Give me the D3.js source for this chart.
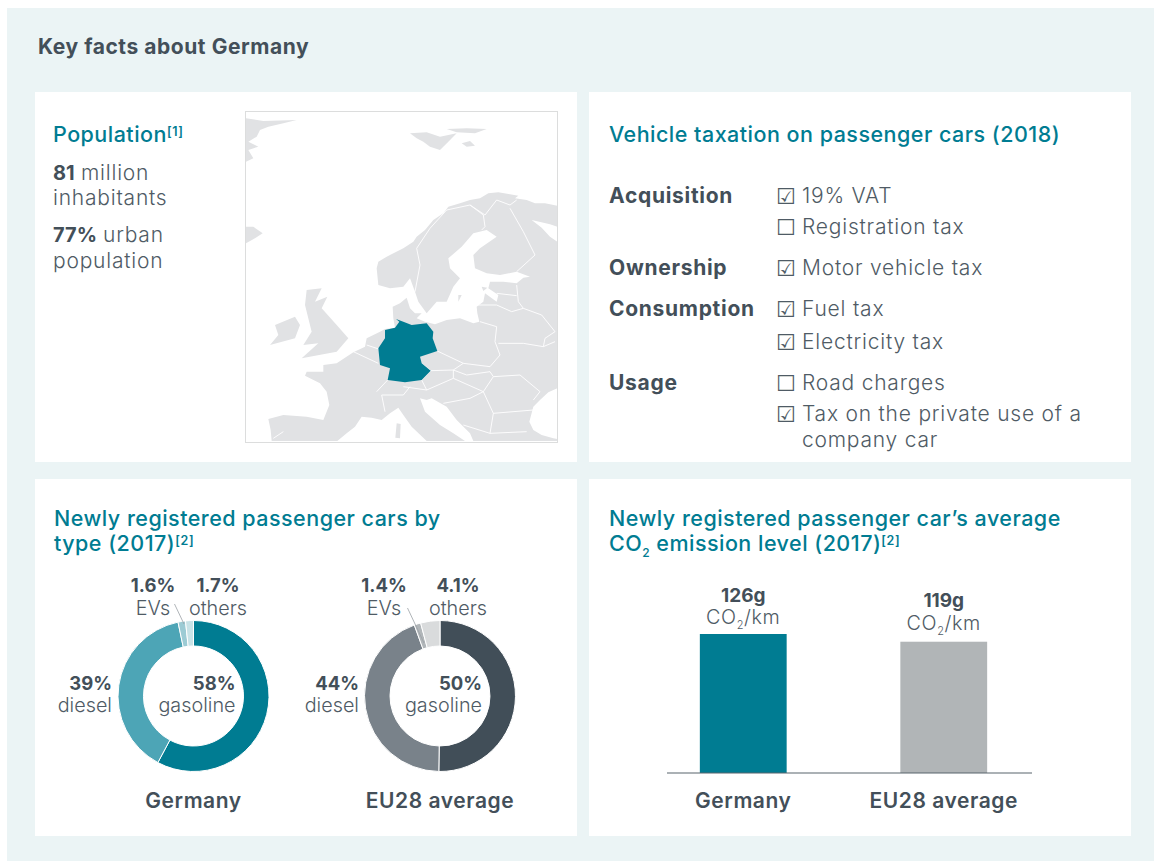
<!DOCTYPE html>
<html>
<head>
<meta charset="utf-8">
<script src="https://d3js.org/d3.v7.min.js"></script>
<style>
  html, body { margin: 0; padding: 0; background: #fff; }
  svg { display: block; }
  text { font-family: Inter, "Open Sans", sans-serif; fill: #4f5b65; font-size: 20px; }
  .b { font-weight: 700; fill: #434f59; }
  .body { font-size: 21px; letter-spacing: 0.78px; font-weight: 350; }
  .label { font-size: 21px; font-weight: 700; fill: #434f59; letter-spacing: 0.7px; }
  .small { font-size: 19.8px; font-weight: 350; }
  .pct { font-size: 18.5px; font-weight: 700; fill: #434f59; }
  .name { font-size: 21px; font-weight: 600; fill: #434f59; letter-spacing: 0.55px; }
  .head { fill: #007c92; font-weight: 500; font-size: 21.5px; letter-spacing: 0.48px; }
  .sup { font-size: 12.5px; font-weight: 600; letter-spacing: 0.6px; }
</style>
</head>
<body>
<div id="chart"></div>
<script>
const width = 1154, height = 861;

// Data
const donutTypes = ["gasoline", "diesel", "EVs", "others"];
const germanyShares = [58, 39, 1.6, 1.7];
const germanyLabels = ["58%", "39%", "1.6%", "1.7%"];
const eu28Shares = [50, 44, 1.4, 4.1];
const eu28Labels = ["50%", "44%", "1.4%", "4.1%"];
const germanyColors = ["#007c92", "#4da5b6", "#9ccbd4", "#c8e3e7"];
const eu28Colors = ["#414e58", "#79828a", "#b1b6b9", "#d9dbdc"];

const barRegions = ["Germany", "EU28 average"];
const barValues = [126, 119];
const barLabels = ["126g", "119g"];
const barColors = ["#007c92", "#b1b5b7"];

const taxRows = [
  ["Acquisition", "19% VAT", true, 203],
  ["", "Registration tax", false, 234],
  ["Ownership", "Motor vehicle tax", true, 275],
  ["Consumption", "Fuel tax", true, 316],
  ["", "Electricity tax", true, 349],
  ["Usage", "Road charges", false, 390],
  ["", "Tax on the private use of a", true, 421]
];

// Map outlines, in the map's own grid (0-975 by 0-1035)
const mapLand = [
  [[18,40],[70,48],[170,45],[130,55],[85,65],[60,75],[50,95],[25,110],[55,125],[25,135],[40,160],[18,170]],
  [[510,85],[560,82],[600,95],[650,85],[625,110],[600,135],[570,125],[550,110],[530,100]],
  [[620,72],[680,70],[740,72],[705,85],[650,82]],
  [[665,115],[690,108],[705,122],[680,125]],
  [[18,365],[40,365],[68,385],[45,400],[18,415]],
  [[200,555],[245,550],[225,590],[262,575],[245,610],[290,660],[325,700],[290,740],[185,760],[235,715],[190,720],[215,680],[195,600]],
  [[105,660],[165,635],[180,660],[165,700],[90,720],[115,690]],
  [[470,955],[482,957],[480,1000],[466,998]],
  [[655,570],[665,570],[655,590]],
  [[725,545],[742,548],[730,558]],
  // continent, clockwise from southern Norway
  [[410,490],[415,470],[440,455],[490,430],[520,410],[530,395],[555,375],[580,345],[610,325],[625,305],[660,295],[690,285],[720,280],[745,265],[775,262],[810,268],[835,272],[825,280],[860,285],[885,295],[915,295],[952,302],
   [952,365],[930,358],[875,345],[905,368],[930,395],[952,410],[952,850],[925,862],[900,885],[880,905],[868,950],[880,975],[905,990],[940,1000],[952,1002],[952,1008],
   [700,1008],[690,985],[650,945],[620,905],[575,880],[560,885],[540,880],[555,920],[600,960],[640,985],[675,1008],[560,1008],[515,965],[490,930],[475,908],[450,925],[425,945],[395,938],[365,935],[345,965],[320,985],
   [292,1008],[95,1008],[92,975],[85,942],[130,930],[200,935],[250,945],[268,900],[260,860],[240,835],[195,812],[200,800],[250,800],[250,780],[290,775],[340,742],[375,725],[380,700],[420,680],[435,672],[465,668],
   [460,640],[458,605],[480,595],[500,578],[510,610],[525,625],[545,625],[530,640],[555,650],[585,658],[620,645],[660,640],[700,655],[718,650],[712,625],[710,605],[730,590],[735,565],[770,590],[775,570],[745,550],[750,530],[790,530],[830,535],[850,518],[870,515],
   [830,500],[780,510],[740,505],[705,490],[700,450],[720,430],[770,395],[740,375],[700,385],[665,425],[625,460],[630,490],[660,520],[640,545],[620,590],[590,590],[560,625],[535,590],[525,560],[510,520],[490,545],[450,550],[415,540]]
];
const mapBorders = [
  [[525,560],[540,480],[530,430],[570,370],[620,315],[690,300],[730,330],[735,365],[725,375]],
  [[690,300],[735,330],[770,285],[810,300],[830,285]],
  [[810,310],[850,380],[885,450],[830,500]],
  [[830,540],[835,590],[850,610]],
  [[770,565],[830,572]],
  [[710,600],[770,600],[815,620],[850,610]],
  [[720,650],[770,665],[765,710],[780,750],[750,785]],
  [[775,715],[850,715],[910,725],[945,710]],
  [[850,610],[905,630],[945,680],[915,700],[910,725]],
  [[592,738],[670,775],[750,785]],
  [[545,775],[572,797],[640,795],[670,775]],
  [[640,795],[680,810],[750,800],[760,815]],
  [[572,797],[545,825],[560,855],[640,820],[640,795]],
  [[490,845],[560,855]],
  [[730,860],[760,815],[840,810],[900,860],[880,885]],
  [[760,925],[880,915]],
  [[730,860],[760,925],[750,985]],
  [[640,820],[730,860]],
  [[610,895],[690,880],[730,860]],
  [[670,960],[750,985],[860,980]],
  [[410,860],[443,825]],
  [[425,870],[490,870],[510,845]],
  [[425,870],[435,920]],
  [[130,980],[100,1000]],
  [[340,740],[415,775]],
  [[380,720],[425,735]]
];
const germanyOutline = [[468,642],[490,650],[515,660],[560,655],[580,680],[578,700],[592,738],[540,755],[545,775],[572,797],[545,825],[495,832],[443,825],[450,790],[420,780],[415,730],[435,700],[435,675],[465,668],[478,650]];

const svg = d3.select("#chart").append("svg")
  .attr("width", width)
  .attr("height", height);

// Background and panels
svg.append("rect").attr("x", 7).attr("y", 8).attr("width", 1147).attr("height", 853).attr("fill", "#ebf4f5");
[[35, 92, 542, 370], [589, 92, 542, 370], [35, 479, 542, 357], [589, 479, 542, 357]].forEach(p => {
  svg.append("rect").attr("x", p[0]).attr("y", p[1]).attr("width", p[2]).attr("height", p[3]).attr("fill", "#fff");
});

function addText(x, y, str, cls, anchor) {
  const t = svg.append("text").attr("x", x).attr("y", y).text(str);
  if (cls) t.attr("class", cls);
  if (anchor) t.attr("text-anchor", anchor);
  return t;
}

addText(38, 54, "Key facts about Germany", "b").style("font-size", "21px").style("letter-spacing", "0.55px");

// Population
addText(53, 142, "Population", "head")
  .append("tspan").attr("class", "sup").attr("dy", -6).text("[1]");
addText(53, 180, "81", "b");
addText(81, 180, "million", "body");
addText(53, 205, "inhabitants", "body");
addText(53, 242, "77%", "b");
addText(103, 242, "urban", "body");
addText(53, 268, "population", "body");

// Map
const mapX = d3.scaleLinear().domain([0, 975]).range([240, 565]);
const mapY = d3.scaleLinear().domain([0, 1035]).range([105, 450]);
const mapLine = d3.line().x(d => mapX(d[0])).y(d => mapY(d[1]));
const mapG = svg.append("g");
mapG.selectAll("path.land").data(mapLand).join("path")
  .attr("class", "land")
  .attr("d", d => mapLine(d) + "Z")
  .attr("fill", "#e1e2e4");
mapG.selectAll("path.border").data(mapBorders).join("path")
  .attr("class", "border")
  .attr("d", mapLine)
  .attr("fill", "none")
  .attr("stroke", "#fff")
  .attr("stroke-width", 0.9);
mapG.append("path").attr("d", mapLine(germanyOutline) + "Z").attr("fill", "#007c92");
svg.append("rect").attr("x", 245.5).attr("y", 111.5).attr("width", 312).attr("height", 331)
  .attr("fill", "none").attr("stroke", "#dcdddd").attr("stroke-width", 1);

// Vehicle taxation
addText(609, 142, "Vehicle taxation on passenger cars (2018)", "head");
taxRows.forEach(r => {
  if (r[0]) addText(609, r[3], r[0], "label");
  addText(776, r[3] + 1, r[2] ? "\u2611" : "\u2610").style("font-family", "'DejaVu Sans'").style("font-size", "22px");
  addText(802, r[3], r[1], "body");
});
addText(802, 447, "company car", "body");

// Donuts
addText(54, 526, "Newly registered passenger cars by", "head");
addText(54, 551, "type (2017)", "head")
  .append("tspan").attr("class", "sup").attr("dy", -6).text("[2]");

const pie = d3.pie().sort(null);
const arc = d3.arc().innerRadius(50).outerRadius(75.5);

function drawDonut(cx, values, labels, colors, title, evX, othX, dieselX, leader) {
  const g = svg.append("g").attr("transform", `translate(${cx},696)`);
  g.selectAll("path").data(pie(values)).join("path")
    .attr("d", arc)
    .attr("fill", (d, i) => colors[i])
    .attr("stroke", "#fff")
    .attr("stroke-width", 1);

  addText(cx + 42, 690, labels[0], "pct", "end");
  addText(cx + 42, 712, donutTypes[0], "small", "end");
  addText(dieselX, 690, labels[1], "pct", "end");
  addText(dieselX, 712, donutTypes[1], "small", "end");
  addText(evX, 592, labels[2], "pct", "middle");
  addText(evX, 615, donutTypes[2], "small", "middle");
  addText(othX, 592, labels[3], "pct", "middle");
  addText(othX, 615, donutTypes[3], "small", "middle");
  svg.append("path").attr("d", leader).attr("stroke", "#9aa1a6").attr("fill", "none").attr("stroke-width", 0.8);
  addText(cx, 808, title, "name", "middle");
}
drawDonut(193.5, germanyShares, germanyLabels, germanyColors, barRegions[0], 153, 218, 112, "M174.5,604L184,624");
drawDonut(440, eu28Shares, eu28Labels, eu28Colors, barRegions[1], 384, 458, 359, "M407.5,608L424,643");

// CO2 bars
addText(609, 526, "Newly registered passenger car\u2019s average", "head");
const co2Title = addText(609, 551, "CO", "head");
co2Title.append("tspan").attr("dy", 6).style("font-size", "12px").text("2");
co2Title.append("tspan").attr("dy", -6).text(" emission level (2017)");
co2Title.append("tspan").attr("class", "sup").attr("dy", -6).text("[2]");

const x = d3.scaleBand().domain(barRegions).range([643, 1044]).paddingInner(0.567).paddingOuter(0.2835);
const y = d3.scaleLinear().domain([0, 126]).range([773, 634]);

svg.append("g").selectAll("rect").data(barValues).join("rect")
  .attr("x", (d, i) => x(barRegions[i]))
  .attr("y", d => y(d))
  .attr("width", x.bandwidth())
  .attr("height", d => y(0) - y(d))
  .attr("fill", (d, i) => barColors[i]);

svg.append("line").attr("x1", 667).attr("x2", 1032).attr("y1", 773).attr("y2", 773)
  .attr("stroke", "#59646d").attr("stroke-width", 1.2);

barValues.forEach((v, i) => {
  const cx = x(barRegions[i]) + x.bandwidth() / 2;
  addText(cx, y(v) - 32 - i * 3, barLabels[i], "pct", "middle").style("font-size", "19px");
  const unit = addText(cx, y(v) - 10 - i * 2, "CO", "small", "middle").style("letter-spacing", "0.6px");
  unit.append("tspan").attr("dy", 5).style("font-size", "11px").text("2");
  unit.append("tspan").attr("dy", -5).text("/km");
  addText(cx, 808, barRegions[i], "name", "middle");
});
</script>
</body>
</html>
